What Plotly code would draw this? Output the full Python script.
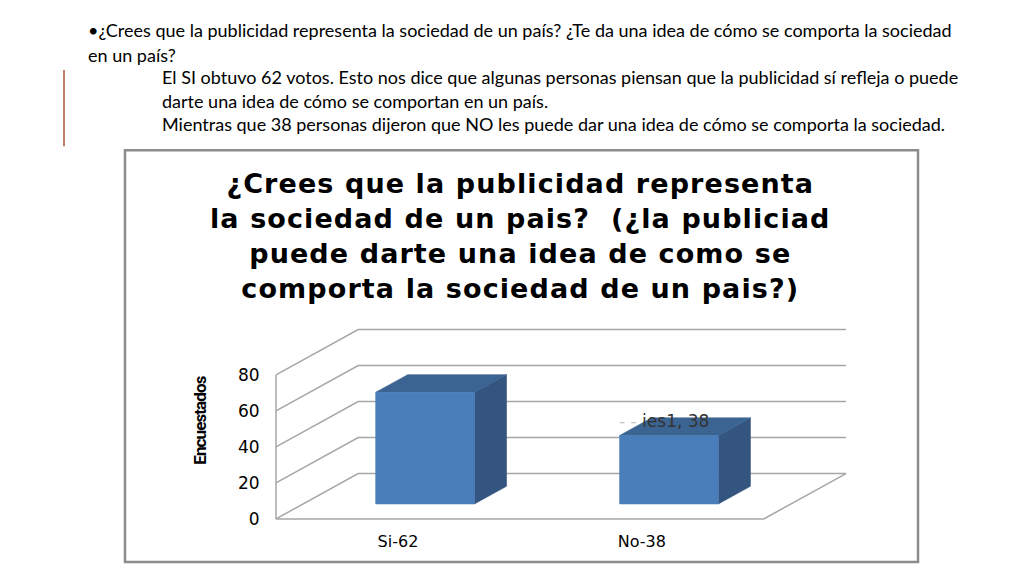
import plotly.graph_objects as go

# chart data
categories = ["Si-62", "No-38"]
votes = [62, 38]
y_ticks = [0, 20, 40, 60, 80]
series_name = "Series1"

# slide text
bullet_lines = [
    "•¿Crees que la publicidad representa la sociedad de un país? ¿Te da una idea de cómo se comporta la sociedad",
    "en un país?",
]
body_lines = [
    "El SI obtuvo 62 votos. Esto nos dice que algunas personas piensan que la publicidad sí refleja o puede",
    "darte una idea de cómo se comportan en un país.",
    "Mientras que 38 personas dijeron que NO les puede dar una idea de cómo se comporta la sociedad.",
]
title_lines = [
    "¿Crees que la publicidad representa",
    "la sociedad de un pais?  (¿la publiciad",
    "puede darte una idea de como se",
    "comporta la sociedad de un pais?)",
]
y_title = "Encuestados"

W, H = 1024, 576
H_EFF = 568     # vertical size the page actually shows at

# fake-3D geometry (in data units)
DX = 0.337      # floor depth, x direction
DY = 25.2       # floor depth, value direction
BAR_W = 0.405
D0, D1 = 0.33, 0.72   # bar depth span, as fraction of floor depth
YMAX = y_ticks[-1]

# pixel anchors used to place the plot area
PX_X = 243.9    # px per category unit
PX_Y = 1.797    # px per value unit
X0_PX = 276     # px of x=-0.5 (front left edge)
Y0_PX = 518     # px of value 0 on front plane
PAD_X, PAD_Y = 0.03, 1.5


def py(px):
    # reference pixel row -> paper y
    return 1 - px / H_EFF


x_lo, x_hi = -0.5 - PAD_X, len(categories) - 0.5 + DX + PAD_X
y_lo, y_hi = -PAD_Y, YMAX + DY + PAD_Y
dom_x = [(X0_PX - PAD_X * PX_X) / W, (X0_PX + (x_hi + 0.5) * PX_X) / W]
dom_y = [py(Y0_PX + PAD_Y * PX_Y), py(Y0_PX - y_hi * PX_Y)]

grid_color = "#a6a6a6"
front_color = "#4a7ebb"
top_color = "#3c6492"
side_color = "#33557f"

fig = go.Figure()

# walls and grid
gx, gy = [], []
for v in y_ticks:
    gx += [-0.5, -0.5 + DX, len(categories) - 0.5 + DX, None]
    gy += [v, v + DY, v + DY, None]
gx += [-0.5, -0.5, None, -0.5, len(categories) - 0.5, len(categories) - 0.5 + DX]
gy += [0, YMAX, None, 0, 0, DY]
fig.add_trace(go.Scatter(x=gx, y=gy, mode="lines", line=dict(color=grid_color, width=1.5),
                         hoverinfo="skip", showlegend=False))

# bars
for i, v in enumerate(votes):
    xa = i - BAR_W / 2 + D0 * DX
    xb = i + BAR_W / 2 + D0 * DX
    yb = D0 * DY
    yt = v + D0 * DY
    ddx = (D1 - D0) * DX
    ddy = (D1 - D0) * DY
    faces = [
        ([xb, xb + ddx, xb + ddx, xb, xb], [yb, yb + ddy, yt + ddy, yt, yb], side_color),
        ([xa, xb, xb + ddx, xa + ddx, xa], [yt, yt, yt + ddy, yt + ddy, yt], top_color),
        ([xa, xb, xb, xa, xa], [yb, yb, yt, yt, yb], front_color),
    ]
    for fx, fy, col in faces:
        fig.add_trace(go.Scatter(x=fx, y=fy, mode="lines", fill="toself", fillcolor=col,
                                 line=dict(color=col, width=0.6), name=categories[i],
                                 hoverinfo="skip", showlegend=False))

# data label on the second bar (partly hidden in the original)
fig.add_annotation(x=1 + D0 * DX - 0.02, y=votes[1] + D0 * DY + 8, xref="x", yref="y",
                   text="<span style='color:#c8c8c8'>- -</span> ies1, " + str(votes[1]),
                   showarrow=False, xanchor="center", yanchor="middle",
                   font=dict(family="DejaVu Sans", size=17, color="#333333"))

# y title
fig.add_annotation(x=200 / W, y=py(420), xref="paper", yref="paper",
                   text="<span style='letter-spacing:-0.9px'><b>" + y_title + "</b></span>",
                   textangle=-90, showarrow=False, xanchor="center", yanchor="middle",
                   font=dict(family="Roboto", size=17, color="black"))

# chart title
fig.add_annotation(x=520 / W, y=py(236), xref="paper", yref="paper",
                   text="<br>".join("<span style='letter-spacing:1.1px'><b>" + t + "</b></span>"
                                    for t in title_lines),
                   showarrow=False, xanchor="center", yanchor="middle", align="center",
                   font=dict(family="DejaVu Sans", size=27, color="black"))

# slide text
for k, line in enumerate(bullet_lines):
    fig.add_annotation(x=86 / W, y=py(30 + 25 * k), xref="paper", yref="paper", text=line,
                       showarrow=False, xanchor="left", yanchor="middle",
                       font=dict(family="Lato", size=18, color="black"))
for k, line in enumerate(body_lines):
    fig.add_annotation(x=160 / W, y=py(77 + 23.5 * k), xref="paper", yref="paper", text=line,
                       showarrow=False, xanchor="left", yanchor="middle",
                       font=dict(family="Lato", size=18, color="black"))

# decorative line and chart frame
fig.add_shape(type="line", xref="paper", yref="paper", x0=64 / W, x1=64 / W,
              y0=py(70), y1=py(146), line=dict(color="#c07d6a", width=2))
fig.add_shape(type="rect", xref="paper", yref="paper", x0=125 / W, x1=918 / W,
              y0=py(150), y1=py(561), line=dict(color="#8c8c8c", width=2.5))

fig.update_xaxes(domain=dom_x, range=[x_lo, x_hi], tickvals=list(range(len(categories))),
                 ticktext=categories, showgrid=False, zeroline=False, showline=False,
                 ticklabelstandoff=8, tickfont=dict(family="DejaVu Sans", size=16, color="black"))
fig.update_yaxes(domain=dom_y, range=[y_lo, y_hi], tickvals=y_ticks, showgrid=False,
                 zeroline=False, showline=False, ticklabelstandoff=8,
                 tickfont=dict(family="DejaVu Sans", size=17, color="black"))
fig.update_layout(width=W, height=H, margin=dict(l=0, r=0, t=0, b=0),
                  paper_bgcolor="white", plot_bgcolor="white", showlegend=False)

fig.write_html("out.html", config={"displayModeBar": False, "responsive": False},
               post_script="document.body.style.margin='0';"
                           "document.documentElement.style.overflow='hidden';")
